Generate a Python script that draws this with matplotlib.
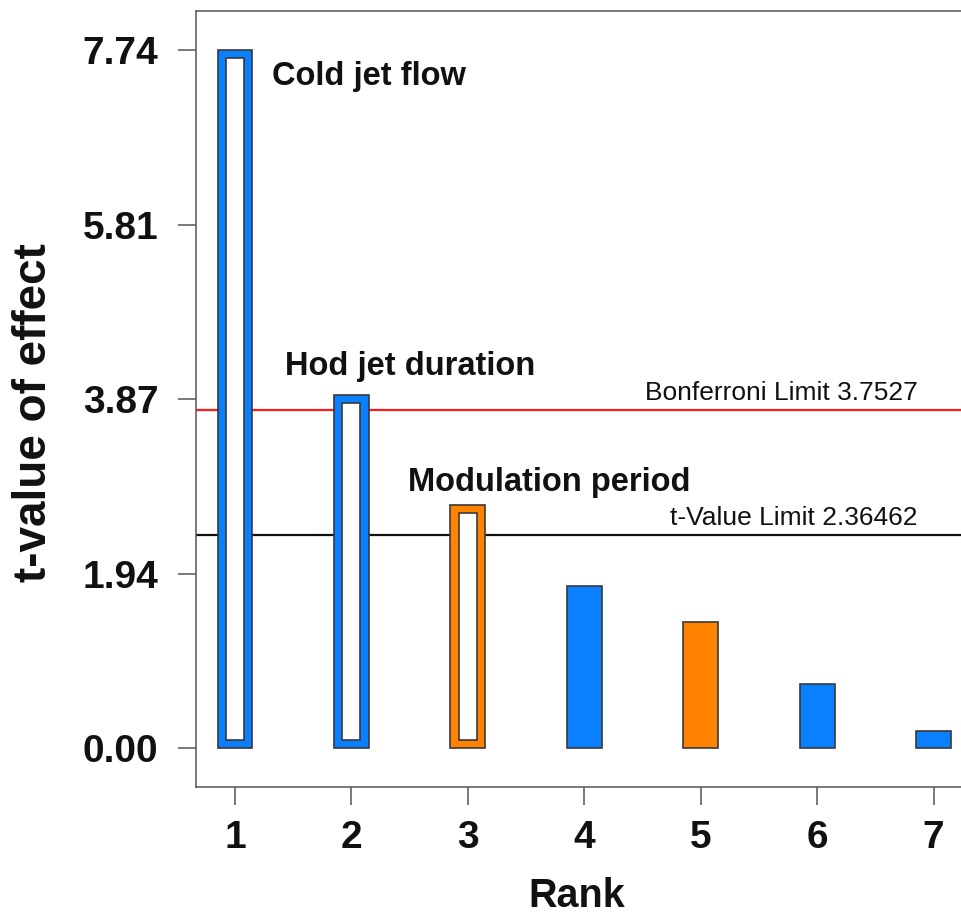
import numpy as np
import matplotlib
matplotlib.use("Agg")
import matplotlib.pyplot as plt

plt.rcParams["font.family"] = ["Liberation Sans", "DejaVu Sans"]

# data
ranks = [1, 2, 3, 4, 5, 6, 7]
t_values = [7.74, 3.92, 2.70, 1.80, 1.40, 0.71, 0.19]
bar_colors = ["#0a80ff", "#0a80ff", "#ff8200", "#0a80ff", "#ff8200", "#0a80ff", "#0a80ff"]
significant = [True, True, True, False, False, False, False]

y_ticks = [0.0, 1.935, 3.87, 5.805, 7.74]
y_tick_labels = ["0.00", "1.94", "3.87", "5.81", "7.74"]

bonferroni_limit = 3.7527
t_limit = 2.36462

effect_names = ["Cold jet flow", "Hod jet duration", "Modulation period"]
name_pos = [(1.318, 7.35), (1.43, 4.14), (2.485, 2.85)]

BAR_W = 0.30
EDGE = "#3a3a3a"


def main():
    fig = plt.figure(figsize=(9.62, 9.16), dpi=100)
    ax = fig.add_axes([196 / 962, 129 / 916, 769 / 962, 776 / 916])

    ax.bar(ranks, t_values, width=BAR_W, color=bar_colors,
           edgecolor=EDGE, linewidth=1.2, zorder=3)

    # hollow bars for the significant effects
    ins_x, ins_y = 0.073, 0.094
    for r, v, s in zip(ranks, t_values, significant):
        if not s:
            continue
        ax.bar(r, v - 2 * ins_y, bottom=ins_y, width=BAR_W - 2 * ins_x,
               color="white", edgecolor=EDGE, linewidth=1.2, zorder=4)

    ax.axhline(bonferroni_limit, color="#ff1a1a", lw=1.6, zorder=2)
    ax.axhline(t_limit, color="#111111", lw=1.6, zorder=2)
    ax.text(6.863, bonferroni_limit + 0.11, "Bonferroni Limit %.4f" % bonferroni_limit,
            ha="right", va="baseline", fontsize=19, color="#111111")
    ax.text(6.863, t_limit + 0.11, "t-Value Limit %.5f" % t_limit,
            ha="right", va="baseline", fontsize=19, color="#111111")

    for name, (x, y) in zip(effect_names, name_pos):
        ax.text(x, y, name, ha="left", va="baseline", fontsize=23.5,
                fontweight="bold", color="#111111")

    ax.set_xlim(0.665, 7.27)
    ax.set_ylim(-0.429, 8.172)
    ax.set_xticks(ranks)
    ax.set_xticklabels([str(r) for r in ranks])
    ax.set_yticks(y_ticks)
    ax.set_yticklabels(y_tick_labels)
    ax.tick_params(axis="both", length=13, width=1.1, color="#555555",
                   labelsize=28, labelcolor="#111111")
    ax.tick_params(axis="x", pad=11)
    ax.tick_params(axis="y", pad=14)
    for lab in ax.get_xticklabels() + ax.get_yticklabels():
        lab.set_fontweight("bold")

    for sp in ax.spines.values():
        sp.set_color("#555555")
        sp.set_linewidth(1.1)

    ax.set_xlabel("Rank", fontsize=28.5, fontweight="bold", color="#111111")
    ax.set_ylabel("t-value of effect", fontsize=33, fontweight="bold", color="#111111")
    ax.xaxis.set_label_coords(0.495, -0.1546)
    ax.yaxis.set_label_coords(-0.211, 0.483)
    ax.xaxis.label.set_va("baseline")
    ax.yaxis.label.set_va("center")

    plt.savefig("out.png", dpi=100)


if __name__ == "__main__":
    main()
